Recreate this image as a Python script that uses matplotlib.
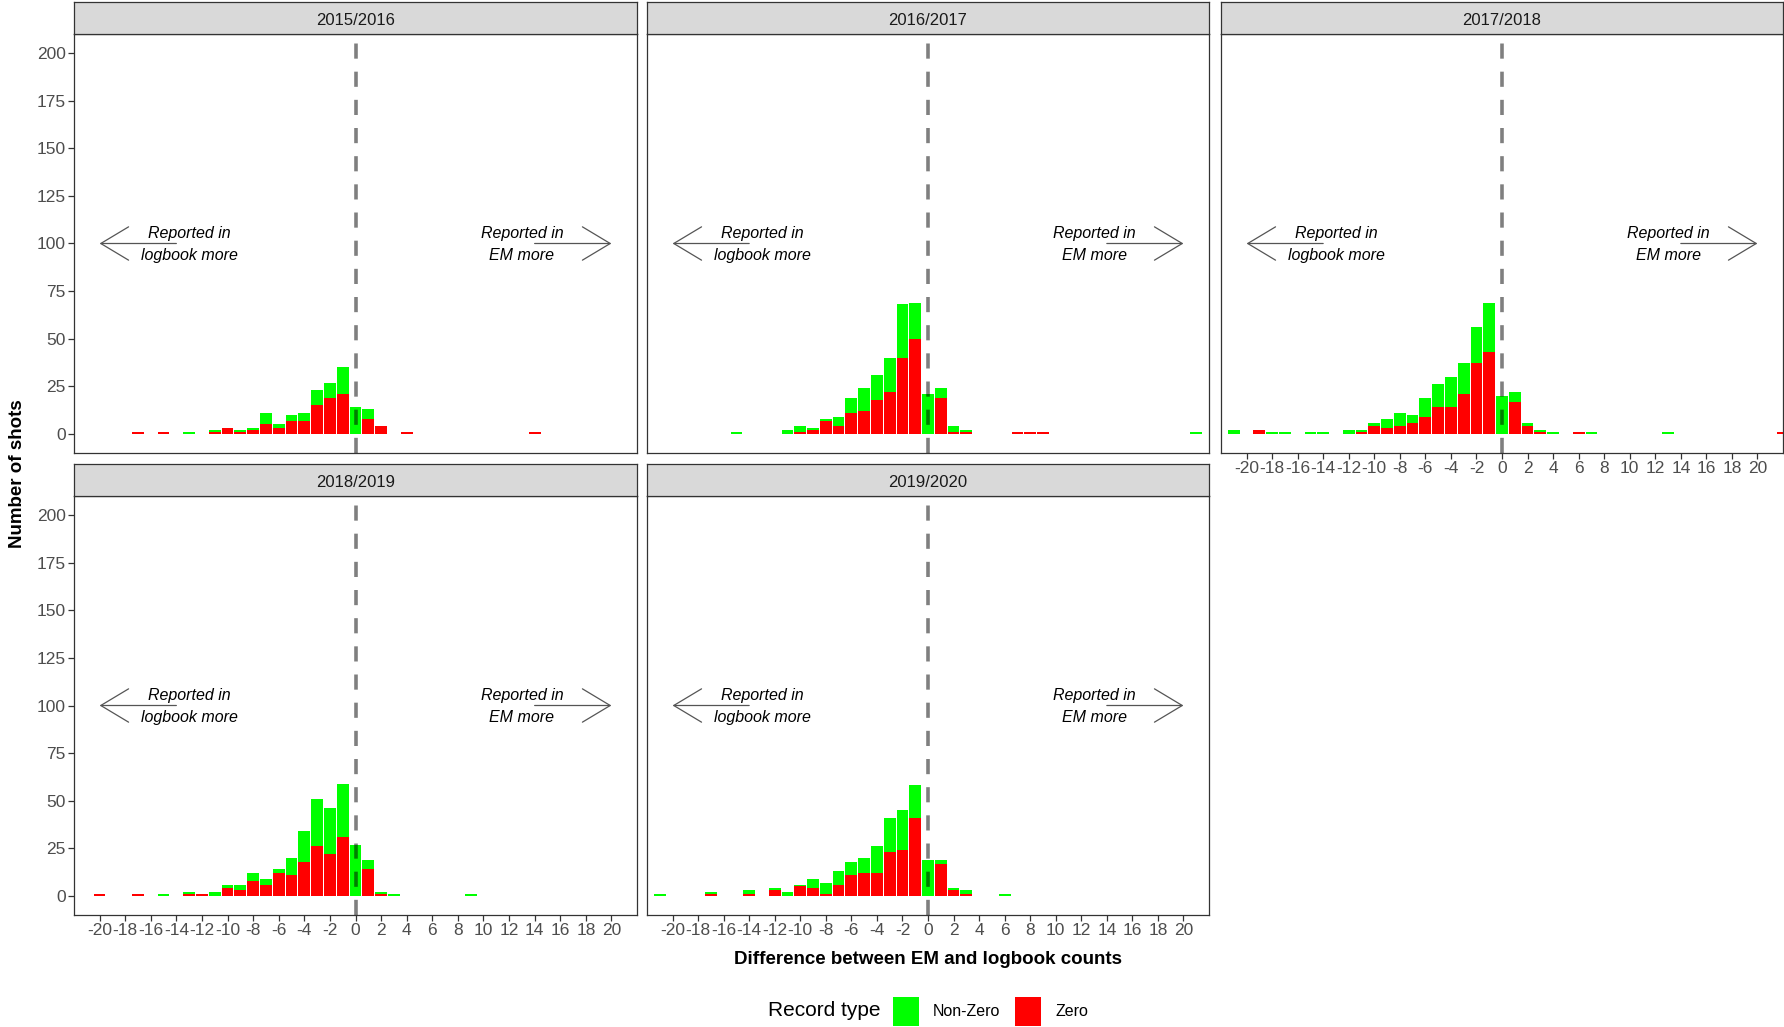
import matplotlib
matplotlib.use("Agg")
import matplotlib.pyplot as plt
from matplotlib.patches import Rectangle
import numpy as np

plt.rcParams["font.family"] = ["Liberation Sans", "DejaVu Sans"]

# Difference (EM - logbook) per season, with counts of Zero / Non-Zero records
seasons = ["2015/2016", "2016/2017", "2017/2018", "2018/2019", "2019/2020"]

diff_1516 = [-17, -15, -13, -11, -10, -9, -8, -7, -6, -5, -4, -3, -2, -1, 0, 1, 2, 4, 14]
zero_1516 = [1, 1, 0, 1, 3, 1, 2, 5, 3, 7, 7, 15, 19, 21, 0, 8, 4, 1, 1]
nonzero_1516 = [0, 0, 1, 1, 0, 1, 1, 6, 2, 3, 4, 8, 8, 14, 14, 5, 0, 0, 0]

diff_1617 = [-15, -11, -10, -9, -8, -7, -6, -5, -4, -3, -2, -1, 0, 1, 2, 3, 7, 8, 9, 21]
zero_1617 = [0, 0, 1, 2, 7, 4, 11, 12, 18, 22, 40, 50, 0, 19, 1, 1, 1, 1, 1, 0]
nonzero_1617 = [1, 2, 3, 1, 1, 5, 8, 12, 13, 18, 28, 19, 21, 5, 3, 1, 0, 0, 0, 1]

diff_1718 = [-21, -19, -18, -17, -15, -14, -12, -11, -10, -9, -8, -7, -6, -5, -4, -3, -2, -1,
             0, 1, 2, 3, 4, 6, 7, 13, 22]
zero_1718 = [0, 2, 0, 0, 0, 0, 0, 1, 4, 3, 4, 6, 9, 14, 14, 21, 37, 43, 0, 17, 4, 1, 0, 1, 0, 0, 1]
nonzero_1718 = [2, 0, 1, 1, 1, 1, 2, 1, 2, 5, 7, 4, 10, 12, 16, 16, 19, 26, 20, 5, 2, 1, 1, 0, 1, 1, 0]

diff_1819 = [-20, -17, -15, -13, -12, -11, -10, -9, -8, -7, -6, -5, -4, -3, -2, -1, 0, 1, 2, 3, 9]
zero_1819 = [1, 1, 0, 1, 1, 0, 4, 3, 8, 6, 12, 11, 18, 26, 22, 31, 0, 14, 1, 0, 0]
nonzero_1819 = [0, 0, 1, 1, 0, 2, 2, 3, 4, 3, 2, 9, 16, 25, 24, 28, 27, 5, 1, 1, 1]

diff_1920 = [-21, -17, -14, -12, -11, -10, -9, -8, -7, -6, -5, -4, -3, -2, -1, 0, 1, 2, 3, 6]
zero_1920 = [0, 1, 1, 3, 0, 5, 4, 1, 6, 11, 12, 12, 23, 24, 41, 0, 17, 3, 1, 0]
nonzero_1920 = [1, 1, 2, 1, 2, 1, 5, 6, 7, 7, 8, 14, 18, 21, 17, 19, 2, 1, 2, 1]

x_ticks = list(range(-20, 21, 2))
y_ticks = [0, 25, 50, 75, 100, 125, 150, 175, 200]

GREEN = "#00FF00"
RED = "#FF0000"
W, H = 1784, 1027

fig = plt.figure(figsize=(W / 100, H / 100), dpi=100)

panel_data = [
    (diff_1516, zero_1516, nonzero_1516),
    (diff_1617, zero_1617, nonzero_1617),
    (diff_1718, zero_1718, nonzero_1718),
    (diff_1819, zero_1819, nonzero_1819),
    (diff_1920, zero_1920, nonzero_1920),
]

col_left = [74, 647, 1221]
col_width = [563, 562, 562]
row_top = [34, 496]
row_bottom = [453, 915]
strip_h = 32

for i, (season, (d, z, nz)) in enumerate(zip(seasons, panel_data)):
    r, c = divmod(i, 3)
    left, width = col_left[c], col_width[c]
    top, bottom = row_top[r], row_bottom[r]
    ax = fig.add_axes([left / W, 1 - bottom / H, width / W, (bottom - top) / H])

    # stacked bars: Zero at the bottom, Non-Zero on top
    ax.bar(d, z, width=0.92, color=RED, linewidth=0, zorder=2)
    ax.bar(d, nz, bottom=z, width=0.92, color=GREEN, linewidth=0, zorder=2)
    ax.axvline(0, color="black", alpha=0.5, linewidth=2.6, dashes=(4.2, 3.6), zorder=3)

    # direction arrows and labels
    arrow_kw = dict(arrowstyle="->, head_length=1.0, head_width=0.6", color="#555555",
                    lw=0.9, mutation_scale=20, shrinkA=0, shrinkB=0)
    ax.annotate("", xy=(-20, 100), xytext=(-14, 100), arrowprops=arrow_kw, zorder=4)
    ax.annotate("", xy=(20, 100), xytext=(14, 100), arrowprops=arrow_kw, zorder=4)
    ax.text(-13, 105.5, "Reported in", style="italic", fontsize=11.5, ha="center", va="center")
    ax.text(-13, 93.5, "logbook more", style="italic", fontsize=11.5, ha="center", va="center")
    ax.text(13, 105.5, "Reported in", style="italic", fontsize=11.5, ha="center", va="center")
    ax.text(13, 93.5, "EM more", style="italic", fontsize=11.5, ha="center", va="center")

    ax.set_xlim(-22, 22)
    ax.set_ylim(-10, 210)
    ax.set_xticks(x_ticks)
    ax.set_yticks(y_ticks)
    ax.set_xticklabels([str(t) for t in x_ticks])
    ax.set_yticklabels([str(t) for t in y_ticks])
    ax.tick_params(length=4, width=0.9, color="#333333", labelcolor="#4D4D4D",
                   labelsize=12.5, pad=2)
    if c != 0:
        ax.tick_params(axis="y", left=False, labelleft=False)
    if i < 2:
        ax.tick_params(axis="x", labelbottom=False, bottom=False)
    for s in ax.spines.values():
        s.set_color("#333333")
        s.set_linewidth(0.9)

    # facet strip
    sax = fig.add_axes([left / W, 1 - top / H, width / W, strip_h / H])
    sax.set_facecolor("#D9D9D9")
    sax.set_xticks([])
    sax.set_yticks([])
    for s in sax.spines.values():
        s.set_color("#333333")
        s.set_linewidth(0.9)
    sax.text(0.5, 0.43, season, transform=sax.transAxes, ha="center", va="center",
             fontsize=12, color="#1A1A1A")

fig.text(18 / W, 1 - 474 / H, "Number of shots", rotation=90, ha="center", va="center",
         fontsize=13.5, fontweight="bold")
fig.text(928 / W, 1 - 960 / H, "Difference between EM and logbook counts", ha="center",
         va="center", fontsize=13.5, fontweight="bold")

# legend drawn by hand at the bottom
ly = 1 - 1011 / H
fig.text(768 / W, ly, "Record type", ha="left", va="center", fontsize=15)
fig.add_artist(Rectangle((893 / W, 1 - 1026 / H), 26 / W, 29 / H, transform=fig.transFigure,
                         facecolor=GREEN, edgecolor="none"))
fig.text(933 / W, ly, "Non-Zero", ha="left", va="center", fontsize=11.5)
fig.add_artist(Rectangle((1015 / W, 1 - 1026 / H), 26 / W, 29 / H, transform=fig.transFigure,
                         facecolor=RED, edgecolor="none"))
fig.text(1055 / W, ly, "Zero", ha="left", va="center", fontsize=11.5)

fig.savefig("out.png", dpi=100)
